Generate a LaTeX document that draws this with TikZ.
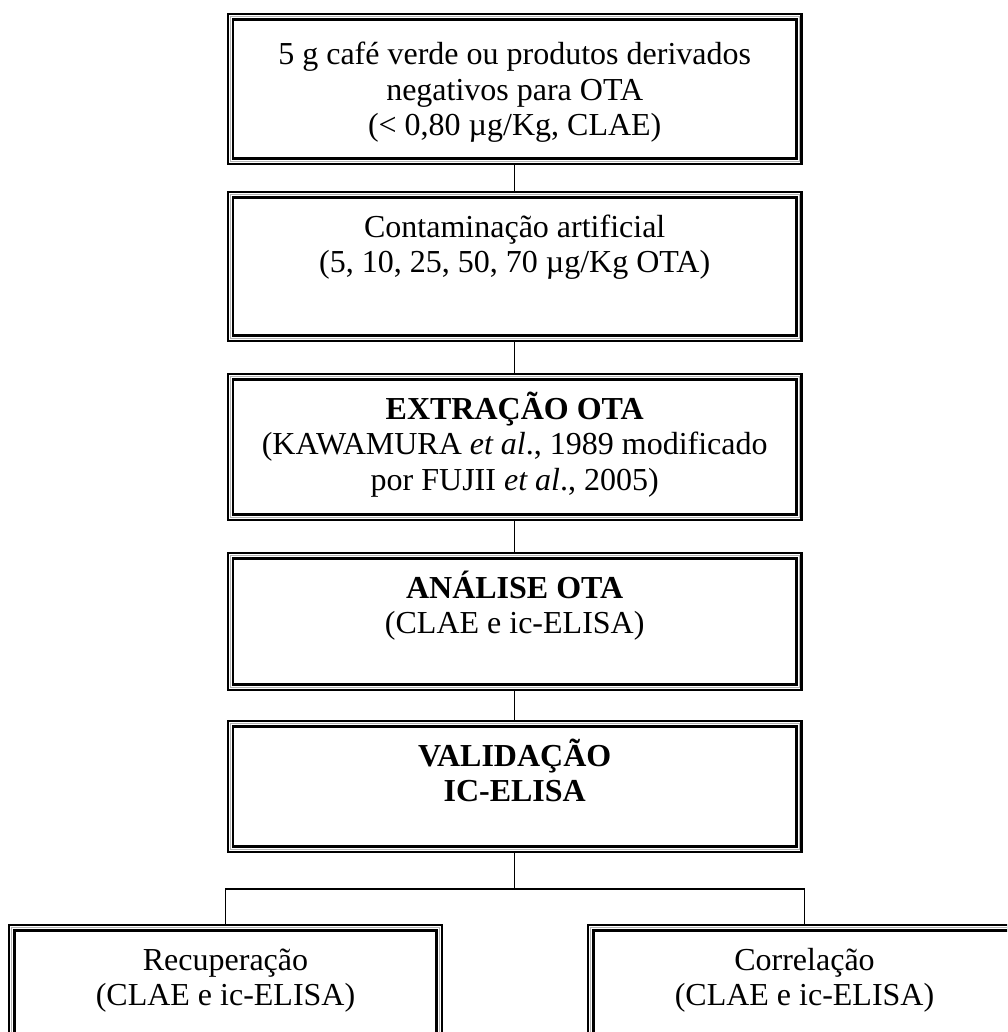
\documentclass[tikz,border=0pt]{standalone}
\usepackage{fontspec}
\setmainfont{Liberation Serif}
\usetikzlibrary{backgrounds}
\tikzset{
  dbox/.style={draw=black, line width=2.4pt, double=white, double distance=2.8pt,
    fill=white, inner sep=0pt, outer sep=0pt, rectangle},
  midline/.style={draw=gray!60, line width=0.7pt},
  txt/.style={anchor=base, inner sep=0pt, outer sep=0pt,
    font=\fontsize{32}{35.5}\selectfont},
  conn/.style={draw=black, line width=1.3pt}
}
\begin{document}
\begin{tikzpicture}[x=1pt, y=-1pt]
\useasboundingbox (0,0) rectangle (1007,1032);
\clip (0,0) rectangle (1007,1032);
% main boxes
\node[dbox, minimum width=568.4pt, minimum height=144.4pt] (b1) at (514.7,89) {};
\node[dbox, minimum width=568.4pt, minimum height=143.4pt] (b2) at (514.7,266.5) {};
\node[dbox, minimum width=568.4pt, minimum height=140.4pt] (b3) at (514.7,447) {};
\node[dbox, minimum width=568.4pt, minimum height=131.4pt] (b4) at (514.7,621.5) {};
\node[dbox, minimum width=568.4pt, minimum height=125.4pt] (b5) at (514.7,786.5) {};
\node[dbox, minimum width=427.4pt, minimum height=168.4pt] (bl) at (225.5,1012) {};
\node[dbox, minimum width=427.4pt, minimum height=168.4pt] (br) at (804.5,1012) {};
\foreach \b in {b1,b2,b3,b4,b5,bl,br}
  \draw[midline] (\b.north west) rectangle (\b.south east);
% texts
\node[txt] (t1) at (514.7,65) {\parbox[t]{560pt}{\centering 5 g café verde ou produtos derivados\\negativos para OTA\\(< 0,80 µg/Kg, CLAE)}};
\node[txt] (t2) at (514.7,237) {\parbox[t]{560pt}{\centering Contaminação artificial\\(5, 10, 25, 50, 70 µg/Kg OTA)}};
\node[txt] (t3) at (514.7,419) {\parbox[t]{560pt}{\centering \textbf{EXTRAÇÃO OTA}\\(KAWAMURA \textit{et al}., 1989 modificado\\por FUJII \textit{et al}., 2005)}};
\node[txt] (t4) at (514.7,598) {\parbox[t]{560pt}{\centering \textbf{ANÁLISE OTA}\\(CLAE e ic-ELISA)}};
\node[txt] (t5) at (514.7,766) {\parbox[t]{560pt}{\centering \textbf{VALIDAÇÃO}\\\textbf{IC-ELISA}}};
\node[txt] (tl) at (225.5,970) {\parbox[t]{420pt}{\centering Recuperação\\(CLAE e ic-ELISA)}};
\node[txt] (tr) at (804.5,970) {\parbox[t]{420pt}{\centering Correlação\\(CLAE e ic-ELISA)}};
% connectors
\coordinate (jn) at (514.7,889);
\begin{scope}[on background layer]
  \draw[conn] (b1.south) -- (b2.north);
  \draw[conn] (b2.south) -- (b3.north);
  \draw[conn] (b3.south) -- (b4.north);
  \draw[conn] (b4.south) -- (b5.north);
  \draw[conn] (b5.south) -- (jn);
  \draw[conn] (bl.north) -- (bl.north |- jn) -- (br.north |- jn) -- (br.north);
\end{scope}
\end{tikzpicture}
\end{document}
